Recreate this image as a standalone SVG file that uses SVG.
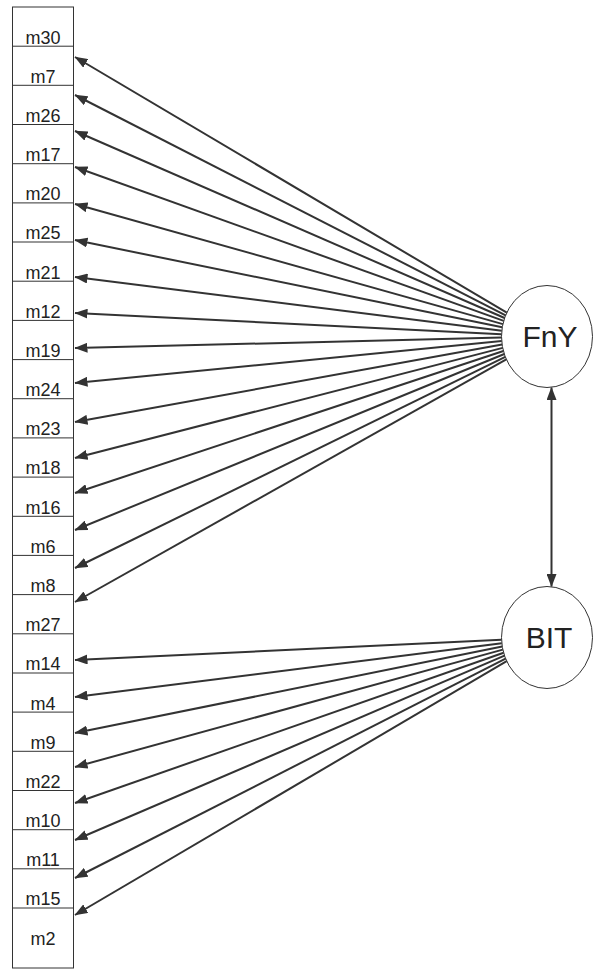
<svg xmlns="http://www.w3.org/2000/svg" width="593" height="970" viewBox="0 0 593 970">
<style>
.box{fill:#fff;stroke:#333;stroke-width:1}
.lbl{font-family:"Liberation Sans",Arial,sans-serif;font-size:18px;fill:#222;text-anchor:middle}
.lat{fill:#fff;stroke:#333;stroke-width:1}
.latlbl{font-family:"Liberation Sans",Arial,sans-serif;font-size:30px;fill:#222;text-anchor:middle}
.c{stroke:#333;stroke-width:2;fill:none;marker-end:url(#ah)}
.d{stroke:#333;stroke-width:2;fill:none;marker-end:url(#ah);marker-start:url(#ah)}
</style>
<defs>
<marker id="ah" markerUnits="userSpaceOnUse" viewBox="0 0 13 10" markerWidth="13" markerHeight="10" refX="12.5" refY="5" orient="auto-start-reverse">
<path d="M0,0 L13,5 L0,10 z" fill="#333"/>
</marker>
</defs>
<rect width="593" height="970" fill="#fff"/>
<g id="m30"><rect class="box" x="12.5" y="7" width="61" height="60"/><text class="lbl" x="43" y="43.5">m30</text></g>
<g id="m7"><rect class="box" x="12.5" y="46.2" width="61" height="60"/><text class="lbl" x="43" y="82.7">m7</text></g>
<g id="m26"><rect class="box" x="12.5" y="85.3" width="61" height="60"/><text class="lbl" x="43" y="121.8">m26</text></g>
<g id="m17"><rect class="box" x="12.5" y="124.5" width="61" height="60"/><text class="lbl" x="43" y="161">m17</text></g>
<g id="m20"><rect class="box" x="12.5" y="163.7" width="61" height="60"/><text class="lbl" x="43" y="200.2">m20</text></g>
<g id="m25"><rect class="box" x="12.5" y="202.9" width="61" height="60"/><text class="lbl" x="43" y="239.4">m25</text></g>
<g id="m21"><rect class="box" x="12.5" y="242" width="61" height="60"/><text class="lbl" x="43" y="278.5">m21</text></g>
<g id="m12"><rect class="box" x="12.5" y="281.2" width="61" height="60"/><text class="lbl" x="43" y="317.7">m12</text></g>
<g id="m19"><rect class="box" x="12.5" y="320.4" width="61" height="60"/><text class="lbl" x="43" y="356.9">m19</text></g>
<g id="m24"><rect class="box" x="12.5" y="359.6" width="61" height="60"/><text class="lbl" x="43" y="396.1">m24</text></g>
<g id="m23"><rect class="box" x="12.5" y="398.7" width="61" height="60"/><text class="lbl" x="43" y="435.2">m23</text></g>
<g id="m18"><rect class="box" x="12.5" y="437.9" width="61" height="60"/><text class="lbl" x="43" y="474.4">m18</text></g>
<g id="m16"><rect class="box" x="12.5" y="477.1" width="61" height="60"/><text class="lbl" x="43" y="513.6">m16</text></g>
<g id="m6"><rect class="box" x="12.5" y="516.3" width="61" height="60"/><text class="lbl" x="43" y="552.8">m6</text></g>
<g id="m8"><rect class="box" x="12.5" y="555.4" width="61" height="60"/><text class="lbl" x="43" y="591.9">m8</text></g>
<g id="m27"><rect class="box" x="12.5" y="594.6" width="61" height="60"/><text class="lbl" x="43" y="631.1">m27</text></g>
<g id="m14"><rect class="box" x="12.5" y="633.8" width="61" height="60"/><text class="lbl" x="43" y="670.3">m14</text></g>
<g id="m4"><rect class="box" x="12.5" y="673" width="61" height="60"/><text class="lbl" x="43" y="709.5">m4</text></g>
<g id="m9"><rect class="box" x="12.5" y="712.1" width="61" height="60"/><text class="lbl" x="43" y="748.6">m9</text></g>
<g id="m22"><rect class="box" x="12.5" y="751.3" width="61" height="60"/><text class="lbl" x="43" y="787.8">m22</text></g>
<g id="m10"><rect class="box" x="12.5" y="790.5" width="61" height="60"/><text class="lbl" x="43" y="827">m10</text></g>
<g id="m11"><rect class="box" x="12.5" y="829.7" width="61" height="60"/><text class="lbl" x="43" y="866.2">m11</text></g>
<g id="m15"><rect class="box" x="12.5" y="868.8" width="61" height="60"/><text class="lbl" x="43" y="905.3">m15</text></g>
<g id="m2"><rect class="box" x="12.5" y="908" width="61" height="60"/><text class="lbl" x="43" y="944.5">m2</text></g>
<g id="FnY"><ellipse class="lat" cx="547" cy="336.5" rx="45.5" ry="51"/><text class="latlbl" x="550" y="347">FnY</text></g>
<g id="BIT"><ellipse class="lat" cx="547" cy="637.5" rx="45.5" ry="51"/><text class="latlbl" x="549" y="648">BIT</text></g>
<g id="connectors">
<line class="c" x1="506.8" y1="312.7" x2="75" y2="57"/>
<line class="c" x1="505.6" y1="315.3" x2="75" y2="95"/>
<line class="c" x1="504.6" y1="318" x2="75" y2="131"/>
<line class="c" x1="503.7" y1="320.9" x2="75" y2="167"/>
<line class="c" x1="502.9" y1="324.1" x2="75" y2="204"/>
<line class="c" x1="502.2" y1="327.3" x2="75" y2="240"/>
<line class="c" x1="501.8" y1="330.8" x2="75" y2="277"/>
<line class="c" x1="501.5" y1="334.2" x2="75" y2="313"/>
<line class="c" x1="501.5" y1="337.6" x2="75" y2="348"/>
<line class="c" x1="501.7" y1="341" x2="75" y2="383"/>
<line class="c" x1="502.1" y1="344.6" x2="75" y2="422"/>
<line class="c" x1="502.7" y1="347.9" x2="75" y2="458"/>
<line class="c" x1="503.4" y1="351" x2="75" y2="493"/>
<line class="c" x1="504.3" y1="354" x2="75" y2="530"/>
<line class="c" x1="505.3" y1="356.9" x2="75" y2="568"/>
<line class="c" x1="506.3" y1="359.4" x2="75" y2="602"/>
<line class="c" x1="501.5" y1="639.7" x2="75" y2="660"/>
<line class="c" x1="501.8" y1="643.2" x2="75" y2="697"/>
<line class="c" x1="502.2" y1="646.6" x2="75" y2="733"/>
<line class="c" x1="502.8" y1="649.6" x2="75" y2="767"/>
<line class="c" x1="503.6" y1="652.7" x2="75" y2="803"/>
<line class="c" x1="504.5" y1="655.7" x2="75" y2="840"/>
<line class="c" x1="505.6" y1="658.6" x2="75" y2="878"/>
<line class="c" x1="506.7" y1="661.2" x2="75" y2="915"/>
<line class="d" x1="551.5" y1="387.5" x2="551.5" y2="586.5"/>
</g>
</svg>
